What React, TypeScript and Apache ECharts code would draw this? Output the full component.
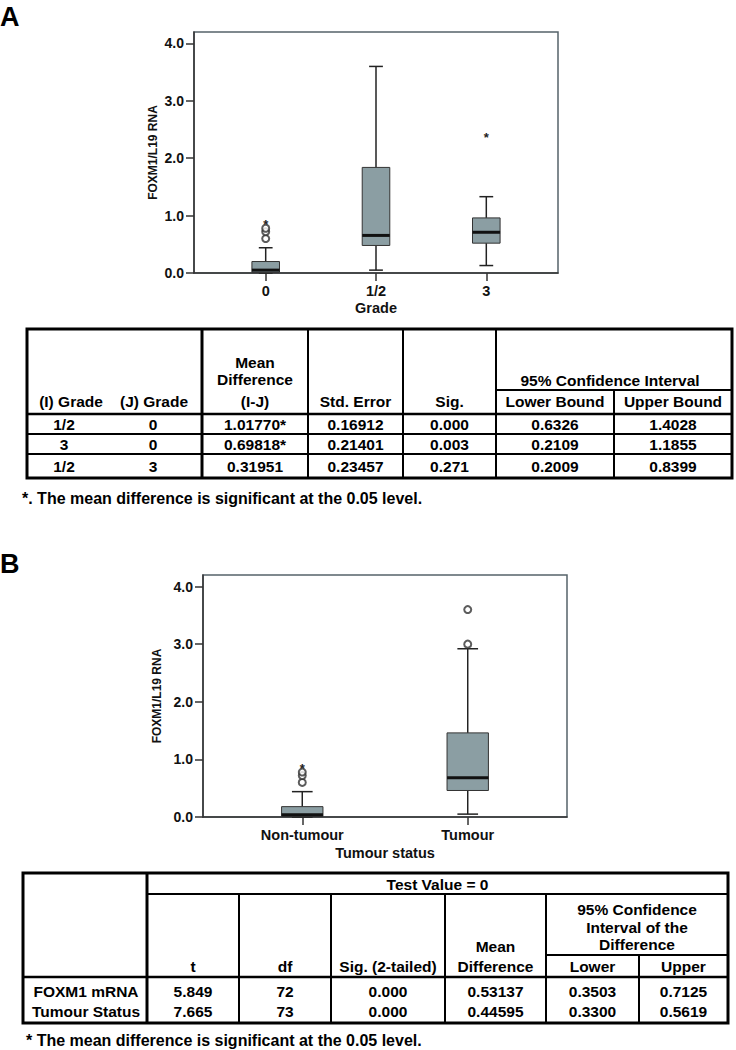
import React, { useEffect, useRef } from "react";
import * as echarts from "echarts";

// ---------- Data: Panel A (Grade) ----------
const gradeCategories = ["0", "1/2", "3"];
// [category index, min whisker, Q1, median, Q3, max whisker]
const gradeBoxes = [
  [0, 0.0, 0.01, 0.05, 0.2, 0.44],
  [1, 0.05, 0.48, 0.655, 1.84, 3.6],
  [2, 0.13, 0.52, 0.71, 0.96, 1.33],
];
const gradeOutlierCircles = [
  [0, 0.6],
  [0, 0.72],
  [0, 0.78],
];
const gradeOutlierStars = [
  [0, 0.9],
  [2, 2.41],
];

// ---------- Data: Panel B (Tumour status) ----------
const statusCategories = ["Non-tumour", "Tumour"];
const statusBoxes = [
  [0, 0.0, 0.01, 0.04, 0.18, 0.44],
  [1, 0.05, 0.46, 0.68, 1.46, 2.92],
];
const statusOutlierCircles = [
  [0, 0.6],
  [0, 0.72],
  [0, 0.78],
  [1, 3.0],
  [1, 3.6],
];
const statusOutlierStars = [[0, 0.9]];

const yTickValues = [0, 1, 2, 3, 4];

// ---------- Table A ----------
const tA_I = ["1/2", "3", "1/2"];
const tA_J = ["0", "0", "3"];
const tA_meanDiff = ["1.01770*", "0.69818*", "0.31951"];
const tA_stdErr = ["0.16912", "0.21401", "0.23457"];
const tA_sig = ["0.000", "0.003", "0.271"];
const tA_lower = ["0.6326", "0.2109", "0.2009"];
const tA_upper = ["1.4028", "1.1855", "0.8399"];

// ---------- Table B ----------
const tB_rows = ["FOXM1 mRNA", "Tumour Status"];
const tB_t = ["5.849", "7.665"];
const tB_df = ["72", "73"];
const tB_sig = ["0.000", "0.000"];
const tB_meanDiff = ["0.53137", "0.44595"];
const tB_lower = ["0.3503", "0.3300"];
const tB_upper = ["0.7125", "0.5619"];

const footnoteA = "*. The mean difference is significant at the 0.05 level.";
const footnoteB = "* The mean difference is significant at the 0.05 level.";

const FONT = '"Liberation Sans", Arial, Helvetica, sans-serif';
const BOX_FILL = "#8b9ea3";
const BOX_W = 0.25;
const CAP_W = 0.125;

function txt(text: string, x: number, y: number, size = 15.5, align = "center") {
  return {
    type: "text",
    x,
    y,
    silent: true,
    style: {
      text,
      fill: "#000",
      fontSize: size,
      fontWeight: "bold",
      fontFamily: FONT,
      align,
      verticalAlign: "middle",
    },
  };
}

function ln(x1: number, y1: number, x2: number, y2: number, w = 2) {
  return {
    type: "line",
    silent: true,
    shape: { x1, y1, x2, y2 },
    style: { stroke: "#000", lineWidth: w },
  };
}

function boxRenderItem(params: any, api: any) {
  const x = api.value(0);
  const cx = api.coord([x, api.value(1)])[0];
  const yMin = api.coord([x, api.value(1)])[1];
  const yQ1 = api.coord([x, api.value(2)])[1];
  const yMed = api.coord([x, api.value(3)])[1];
  const yQ3 = api.coord([x, api.value(4)])[1];
  const yMax = api.coord([x, api.value(5)])[1];
  const hw = api.size([BOX_W, 0])[0] / 2;
  const cw = api.size([CAP_W, 0])[0] / 2;
  const stroke = { stroke: "#222", lineWidth: 1.5 };
  return {
    type: "group",
    children: [
      { type: "line", shape: { x1: cx, y1: yMax, x2: cx, y2: yQ3 }, style: stroke },
      { type: "line", shape: { x1: cx, y1: yQ1, x2: cx, y2: yMin }, style: stroke },
      { type: "line", shape: { x1: cx - cw, y1: yMax, x2: cx + cw, y2: yMax }, style: stroke },
      { type: "line", shape: { x1: cx - cw, y1: yMin, x2: cx + cw, y2: yMin }, style: stroke },
      {
        type: "rect",
        shape: { x: cx - hw, y: yQ3, width: hw * 2, height: yQ1 - yQ3 },
        style: { fill: BOX_FILL, stroke: "#333", lineWidth: 1 },
      },
      {
        type: "line",
        shape: { x1: cx - hw, y1: yMed, x2: cx + hw, y2: yMed },
        style: { stroke: "#111", lineWidth: 3 },
      },
    ],
  };
}

function starRenderItem(params: any, api: any) {
  const p = api.coord([api.value(0), api.value(1)]);
  return {
    type: "text",
    x: p[0],
    y: p[1] + 3,
    z2: 10,
    style: {
      text: "*",
      fill: "#222",
      fontSize: 13,
      fontWeight: "bold",
      fontFamily: FONT,
      align: "center",
      verticalAlign: "middle",
    },
  };
}

function makeXAxis(gridIndex: number, cats: string[], min: number, max: number, name: string, nameGap: number) {
  const vals = cats.map((_, i) => i);
  return {
    gridIndex,
    type: "value",
    min,
    max,
    splitLine: { show: false },
    axisLine: { show: true, onZero: false, lineStyle: { color: "#333", width: 1.5 } },
    axisTick: { show: true, customValues: vals, length: 8, lineStyle: { color: "#333", width: 1.5 } },
    axisLabel: {
      show: true,
      customValues: vals,
      formatter: (v: number) => cats[Math.round(v)] ?? "",
      margin: 10,
      color: "#111",
      fontSize: 14.5,
      fontWeight: "bold",
      fontFamily: FONT,
    },
    name,
    nameLocation: "middle",
    nameGap,
    nameTextStyle: { color: "#111", fontSize: 14.5, fontWeight: "bold", fontFamily: FONT },
  };
}

function makeYAxis(gridIndex: number, nameGap: number) {
  return {
    gridIndex,
    type: "value",
    min: 0,
    max: 4.2,
    splitLine: { show: false },
    axisLine: { show: true, onZero: false, lineStyle: { color: "#333", width: 1.5 } },
    axisTick: { show: true, customValues: yTickValues, length: 8, lineStyle: { color: "#333", width: 1.5 } },
    axisLabel: {
      show: true,
      customValues: yTickValues,
      formatter: (v: number) => v.toFixed(1),
      margin: 10,
      color: "#111",
      fontSize: 14,
      fontWeight: "bold",
      fontFamily: FONT,
    },
    name: "FOXM1/L19 RNA",
    nameLocation: "middle",
    nameGap,
    nameTextStyle: { color: "#111", fontSize: 12, fontWeight: "bold", fontFamily: FONT },
  };
}

function buildTables() {
  const g: any[] = [];
  // Panel labels
  g.push(txt("A", 0, 17, 27, "left"));
  g.push(txt("B", 0, 564, 27, "left"));

  // ---- Table A ----
  g.push({
    type: "rect",
    silent: true,
    shape: { x: 27, y: 329, width: 705, height: 149 },
    style: { fill: "none", stroke: "#000", lineWidth: 3 },
  });
  g.push(ln(202, 329, 202, 478, 3));
  g.push(ln(308, 329, 308, 478, 2));
  g.push(ln(403, 329, 403, 478, 2));
  g.push(ln(496, 329, 496, 478, 2));
  g.push(ln(496, 390, 732, 390, 2));
  g.push(ln(614, 390, 614, 478, 2));
  g.push(ln(27, 414, 732, 414, 2.5));
  g.push(ln(27, 434, 732, 434, 2));
  g.push(ln(27, 454, 732, 454, 2));

  const hA = 401;
  g.push(txt("(I) Grade", 71, hA));
  g.push(txt("(J) Grade", 154, hA));
  g.push(txt("Mean", 255, 362));
  g.push(txt("Difference", 255, 379));
  g.push(txt("(I-J)", 255, hA));
  g.push(txt("Std. Error", 355.5, hA));
  g.push(txt("Sig.", 449.5, hA));
  g.push(txt("95% Confidence Interval", 610, 380));
  g.push(txt("Lower Bound", 555, hA));
  g.push(txt("Upper Bound", 673, hA));

  const rowYA = [424, 444, 466];
  const colsA: [string[], number][] = [
    [tA_I, 64],
    [tA_J, 153],
    [tA_meanDiff, 255],
    [tA_stdErr, 355.5],
    [tA_sig, 449.5],
    [tA_lower, 555],
    [tA_upper, 673],
  ];
  colsA.forEach(([arr, x]) => arr.forEach((v, i) => g.push(txt(v, x, rowYA[i]))));
  g.push(txt(footnoteA, 22, 498, 16, "left"));

  // ---- Table B ----
  g.push({
    type: "rect",
    silent: true,
    shape: { x: 23, y: 873, width: 705, height: 150 },
    style: { fill: "none", stroke: "#000", lineWidth: 3 },
  });
  g.push(ln(147, 873, 147, 1023, 3));
  g.push(ln(147, 894, 728, 894, 2));
  g.push(ln(239, 894, 239, 1023, 2));
  g.push(ln(331, 894, 331, 1023, 2));
  g.push(ln(445, 894, 445, 1023, 2));
  g.push(ln(546, 894, 546, 1023, 2));
  g.push(ln(546, 955, 728, 955, 2));
  g.push(ln(639, 955, 639, 1023, 2));
  g.push(ln(23, 977, 728, 977, 2.5));

  g.push(txt("Test Value = 0", 437.5, 884));
  const hB = 966;
  g.push(txt("t", 193, hB));
  g.push(txt("df", 285, hB));
  g.push(txt("Sig. (2-tailed)", 388, hB));
  g.push(txt("Mean", 495.5, 946));
  g.push(txt("Difference", 495.5, hB));
  g.push(txt("95% Confidence", 637, 909));
  g.push(txt("Interval of the", 637, 927));
  g.push(txt("Difference", 637, 944));
  g.push(txt("Lower", 592.5, hB));
  g.push(txt("Upper", 683.5, hB));

  const rowYB = [991, 1011];
  const colsB: [string[], number][] = [
    [tB_rows, 86],
    [tB_t, 193],
    [tB_df, 285],
    [tB_sig, 388],
    [tB_meanDiff, 495.5],
    [tB_lower, 592.5],
    [tB_upper, 683.5],
  ];
  colsB.forEach(([arr, x]) => arr.forEach((v, i) => g.push(txt(v, x, rowYB[i]))));
  g.push(txt(footnoteB, 26, 1040, 16, "left"));
  return g;
}

export default function App() {
  const ref = useRef<HTMLDivElement>(null);
  useEffect(() => {
    if (!ref.current) return;
    const chart = echarts.init(ref.current, null, { renderer: "svg" });
    const gridStyle = { show: true, borderColor: "#56636a", borderWidth: 1.5, backgroundColor: "transparent" };
    chart.setOption({
      animation: false,
      backgroundColor: "#ffffff",
      textStyle: { fontFamily: FONT },
      grid: [
        { left: 194, top: 32, width: 364, height: 241, ...gridStyle },
        { left: 203, top: 575, width: 364, height: 242, ...gridStyle },
      ],
      xAxis: [
        makeXAxis(0, gradeCategories, -0.65, 2.65, "Grade", 27),
        makeXAxis(1, statusCategories, -0.6, 1.6, "Tumour status", 28),
      ],
      yAxis: [makeYAxis(0, 35), makeYAxis(1, 40)],
      series: [
        {
          type: "custom",
          xAxisIndex: 0,
          yAxisIndex: 0,
          renderItem: boxRenderItem,
          encode: { x: 0, y: [1, 2, 3, 4, 5] },
          data: gradeBoxes,
          z: 3,
        },
        {
          type: "scatter",
          xAxisIndex: 0,
          yAxisIndex: 0,
          symbol: "emptyCircle",
          symbolSize: 7,
          itemStyle: { color: "#333", borderColor: "#333", borderWidth: 1.2 },
          data: gradeOutlierCircles,
          z: 4,
        },
        {
          type: "custom",
          xAxisIndex: 0,
          yAxisIndex: 0,
          renderItem: starRenderItem,
          encode: { x: 0, y: 1 },
          data: gradeOutlierStars,
          z: 6,
        },
        {
          type: "custom",
          xAxisIndex: 1,
          yAxisIndex: 1,
          renderItem: boxRenderItem,
          encode: { x: 0, y: [1, 2, 3, 4, 5] },
          data: statusBoxes,
          z: 3,
        },
        {
          type: "scatter",
          xAxisIndex: 1,
          yAxisIndex: 1,
          symbol: "emptyCircle",
          symbolSize: 7,
          itemStyle: { color: "#333", borderColor: "#333", borderWidth: 1.2 },
          data: statusOutlierCircles,
          z: 4,
        },
        {
          type: "custom",
          xAxisIndex: 1,
          yAxisIndex: 1,
          renderItem: starRenderItem,
          encode: { x: 0, y: 1 },
          data: statusOutlierStars,
          z: 6,
        },
      ],
      graphic: buildTables(),
    });
    return () => chart.dispose();
  }, []);
  return (
    <div
      ref={ref}
      style={{ position: "absolute", left: 0, top: 0, width: 736, height: 1050, background: "#fff" }}
    />
  );
}
